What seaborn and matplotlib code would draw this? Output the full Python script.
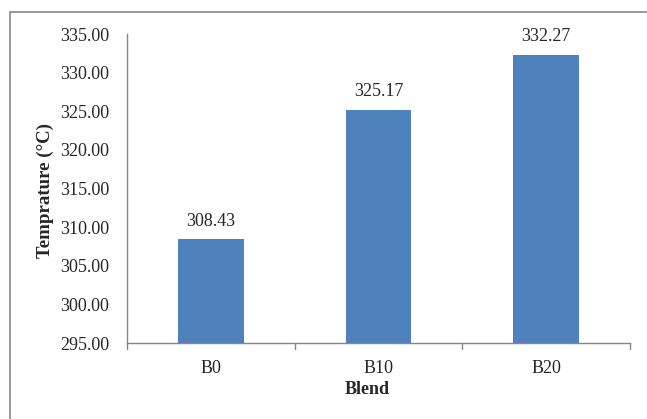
import matplotlib
matplotlib.use("Agg")
import matplotlib.pyplot as plt
from matplotlib.patches import Rectangle
import seaborn as sns
import pandas as pd

blends = ["B0", "B10", "B20"]
temperatures = [308.43, 325.17, 332.27]
y_ticks = [295, 300, 305, 310, 315, 320, 325, 330, 335]

sns.set_style("white")
plt.rcParams["font.family"] = ["Liberation Serif", "DejaVu Serif"]

W, H = 647, 419
fig = plt.figure(figsize=(W / 100, H / 100), dpi=100)
ax = fig.add_axes([127 / W, 1 - 343 / H, (630 - 127) / W, (343 - 34) / H])

df = pd.DataFrame({"Blend": blends, "Temp": temperatures})
sns.barplot(data=df, x="Blend", y="Temp", color="#4F81BD", saturation=1,
            width=0.39, ax=ax, edgecolor="none")

ax.set_ylim(295, 335)
ax.set_xlim(-0.5, 2.5)
ax.set_yticks(y_ticks)
ax.set_yticklabels([f"{v:.2f}" for v in y_ticks], fontsize=13)
ax.set_xticks(range(len(blends)))
ax.set_xticklabels(blends, fontsize=13)
ax.tick_params(axis="x", length=0, pad=12)
ax.tick_params(axis="y", length=5, width=1, color="#868686", direction="out", pad=8)

# tick marks between the categories on the x axis
for xb in [-0.5, 0.5, 1.5, 2.5]:
    ax.plot([xb, xb], [0, -0.018], transform=ax.get_xaxis_transform(),
            color="#868686", lw=1, clip_on=False)

for s in ["top", "right"]:
    ax.spines[s].set_visible(False)
for s in ["left", "bottom"]:
    ax.spines[s].set_color("#868686")
    ax.spines[s].set_linewidth(1)

for i, v in enumerate(temperatures):
    ax.annotate(f"{v:.2f}", (i, v), xytext=(0, 7), textcoords="offset points",
                ha="center", va="bottom", fontsize=13)

ax.set_ylabel("Temprature (°C)", fontsize=13.6, fontweight="bold")
ax.set_xlabel("Blend", fontsize=13, fontweight="bold")
ax.yaxis.set_label_coords(45 / W, 1 - 190 / H, transform=fig.transFigure)
ax.xaxis.set_label_coords(367 / W, 1 - 389 / H, transform=fig.transFigure)
ax.xaxis.label.set_va("center")
ax.yaxis.label.set_va("center")

# chart frame
fig.add_artist(Rectangle((10 / W, -0.2), 1.2, 1.2 - 12 / H,
                         transform=fig.transFigure, fill=False,
                         edgecolor="#868686", lw=1.2))

fig.savefig("out.png", dpi=100)
